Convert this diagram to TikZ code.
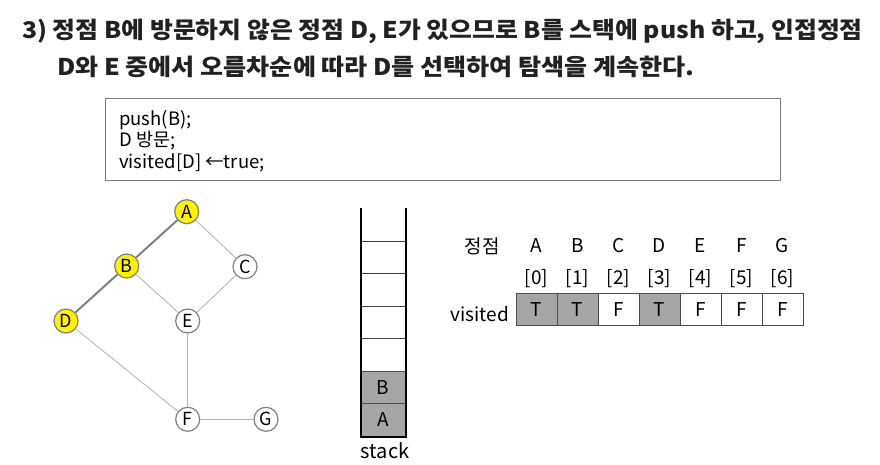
\documentclass[tikz,border=0pt]{standalone}
\usepackage{fontspec}
\setmainfont{Noto Sans CJK KR}
\setsansfont{Noto Sans CJK KR}
\begin{document}
\begin{tikzpicture}[x=1pt,y=-1pt,
  vtx/.style={circle,draw=black!50,line width=1.2pt,minimum size=24pt,inner sep=0pt,font=\fontsize{18}{18}\selectfont},
  vis/.style={vtx,fill=yellow},
  edge/.style={draw=black!30,line width=0.8pt},
  tedge/.style={draw=black!50,line width=2pt},
  cell/.style={draw=black!70,line width=0.8pt,minimum width=41pt,minimum height=32.5pt,inner sep=0pt,font=\fontsize{19}{19}\selectfont},
  tcell/.style={cell,fill=black!35},
  lbl/.style={font=\fontsize{19}{19}\selectfont,inner sep=0pt},
  codetxt/.style={font=\fontsize{18.5}{18.5}\selectfont,inner sep=0pt,anchor=west},
  ttl/.style={anchor=west,inner sep=0pt,text=black!87,font=\fontsize{23}{23}\selectfont\bfseries}]
\useasboundingbox (0,0) rectangle (880,465);
% title
\node[ttl] (t1) at (22,31) {\scalebox{1.08}[1]{3) 정점 B에 방문하지 않은 정점 D, E가 있으므로 B를 스택에 push 하고, 인접정점}};
\node[ttl] (t2) at (57,67) {\scalebox{1.09}[1]{D와 E 중에서 오름차순에 따라 D를 선택하여 탐색을 계속한다.}};
% code box
\node[draw=black!50,line width=0.8pt,anchor=north west,minimum width=675pt,minimum height=82pt,inner sep=0pt] (code) at (105,98) {};
\node[codetxt] (c1) at (119,120) {push(B);};
\node[codetxt] (c2) at (119,141) {D 방문;};
\node[codetxt] (c3) at (119,163) {visited[D] ←true;};
% graph
\node[vis] (A) at (186.7,211.7) {A};
\node[vis] (B) at (126.7,266) {B};
\node[vtx] (C) at (245,266.7) {C};
\node[vis] (D) at (66,321) {D};
\node[vtx] (E) at (187.7,321) {E};
\node[vtx] (F) at (187.7,419.3) {F};
\node[vtx] (G) at (266,419.3) {G};
\draw[tedge] (A) -- (B);
\draw[tedge] (B) -- (D);
\draw[edge] (A) -- (C);
\draw[edge] (B) -- (E);
\draw[edge] (C) -- (E);
\draw[edge] (D) -- (F);
\draw[edge] (E) -- (F);
\draw[edge] (F) -- (G);
% stack
\foreach \i/\y in {1/257.3,2/290,3/322.5,4/355}{
  \node[cell,draw=black!75,minimum width=45pt,minimum height=32.7pt] (s\i) at (383.2,\y) {};
}
\node[cell,fill=black!35,minimum width=45pt,minimum height=32.7pt] (sB) at (383.2,387.3) {B};
\node[cell,fill=black!35,minimum width=45pt,minimum height=32.7pt] (sA) at (383.2,420) {A};
\draw[line width=2pt,black] (360.7,208.3) -- (360.7,436.7) -- (405.7,436.7) -- (405.7,208.3);
\node[lbl,font=\fontsize{20}{20}\selectfont] (stk) at (385,451) {stack};
% table
\node[lbl,anchor=east] (hdr) at (500,246) {정점};
\node[lbl,anchor=east] (vl) at (509,314) {visited};
\foreach \n/\v/\f [count=\k from 0] in {A/T/1,B/T/1,C/F/0,D/T/1,E/F/0,F/F/0,G/F/0}{
  \pgfmathsetmacro\cx{536.5+41*\k}
  \node[lbl] (h\n) at (\cx,246) {\n};
  \node[lbl] (i\n) at (\cx,279) {[\k]};
  \ifnum\f=1
    \node[tcell] (v\n) at (\cx,309.5) {\v};
  \else
    \node[cell] (v\n) at (\cx,309.5) {\v};
  \fi
}
\end{tikzpicture}
\end{document}
